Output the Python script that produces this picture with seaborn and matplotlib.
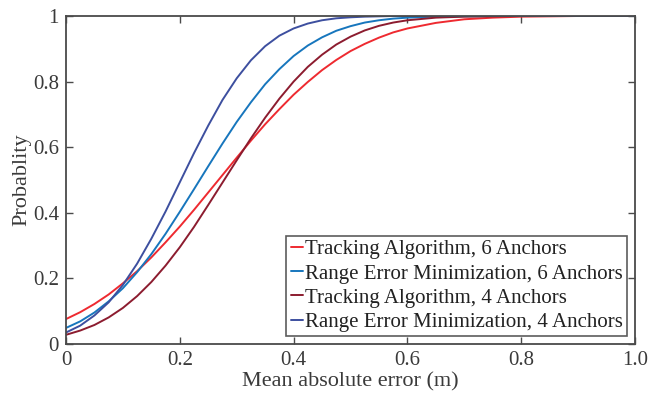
import numpy as np
import pandas as pd
import matplotlib
matplotlib.use("Agg")
import matplotlib.pyplot as plt
import seaborn as sns

# Error grid (m)
error_m = [0.0, 0.025, 0.05, 0.075, 0.1, 0.125, 0.15, 0.175, 0.2, 0.225,
           0.25, 0.275, 0.3, 0.325, 0.35, 0.375, 0.4, 0.425, 0.45, 0.475,
           0.5, 0.525, 0.55, 0.575, 0.6, 0.65, 0.7, 0.75, 0.8, 0.9, 1.0]

# Empirical CDF of mean absolute error for each method
tracking_6 = [0.076, 0.097, 0.122, 0.151, 0.185, 0.222, 0.264, 0.310, 0.358, 0.409,
              0.462, 0.515, 0.568, 0.620, 0.670, 0.716, 0.760, 0.799, 0.835, 0.866,
              0.893, 0.915, 0.934, 0.950, 0.962, 0.979, 0.990, 0.995, 0.998, 1.000, 1.000]
range_min_6 = [0.049, 0.069, 0.096, 0.130, 0.170, 0.219, 0.274, 0.336, 0.403, 0.472,
               0.542, 0.611, 0.677, 0.737, 0.792, 0.838, 0.878, 0.910, 0.935, 0.955,
               0.969, 0.980, 0.987, 0.992, 0.995, 0.998, 0.999, 1.000, 1.000, 1.000, 1.000]
tracking_4 = [0.028, 0.041, 0.058, 0.081, 0.110, 0.146, 0.189, 0.239, 0.295, 0.357,
              0.424, 0.492, 0.560, 0.627, 0.690, 0.748, 0.800, 0.845, 0.882, 0.913,
              0.937, 0.956, 0.970, 0.980, 0.987, 0.995, 0.998, 0.999, 1.000, 1.000, 1.000]
range_min_4 = [0.035, 0.056, 0.087, 0.127, 0.180, 0.245, 0.321, 0.404, 0.493, 0.582,
               0.666, 0.744, 0.810, 0.865, 0.908, 0.940, 0.962, 0.977, 0.987, 0.993,
               0.996, 0.998, 0.999, 1.000, 1.000, 1.000, 1.000, 1.000, 1.000, 1.000, 1.000]

series_names = ["Tracking Algorithm, 6 Anchors",
                "Range Error Minimization, 6 Anchors",
                "Tracking Algorithm, 4 Anchors",
                "Range Error Minimization, 4 Anchors"]
series_colors = ["#ee2a30", "#1776bd", "#8c1c2f", "#3d4f9f"]

x_ticks = [0, 0.2, 0.4, 0.6, 0.8, 1.0]
x_tick_labels = ["0", "0.2", "0.4", "0.6", "0.8", "1.0"]
y_ticks = [0, 0.2, 0.4, 0.6, 0.8, 1.0]
y_tick_labels = ["0", "0.2", "0.4", "0.6", "0.8", "1"]

df = pd.DataFrame({
    "error": error_m * 4,
    "prob": tracking_6 + range_min_6 + tracking_4 + range_min_4,
    "method": sum([[n] * len(error_m) for n in series_names], []),
})

sns.set_theme(style="ticks")
plt.rcParams["font.family"] = ["Liberation Serif", "DejaVu Serif"]

axis_gray = "#4a4a4a"
text_gray = "#3a3a3a"
fig = plt.figure(figsize=(6.5, 3.97), dpi=100)
ax = fig.add_axes([0.1015, 0.1335, 0.8755, 0.8262])

sns.lineplot(data=df, x="error", y="prob", hue="method", hue_order=series_names,
             palette=series_colors, linewidth=1.4, ax=ax, legend=False,
             estimator=None, sort=False)

ax.set_xlim(0, 1.0)
ax.set_ylim(0, 1.0)
ax.set_xticks(x_ticks)
ax.set_xticklabels(x_tick_labels)
ax.set_yticks(y_ticks)
ax.set_yticklabels(y_tick_labels)
ax.tick_params(direction="in", length=5, width=1.0, colors=axis_gray,
               labelsize=15, top=True, right=True, labelcolor=text_gray, pad=5)
for sp in ax.spines.values():
    sp.set_visible(True)
    sp.set_color(axis_gray)
    sp.set_linewidth(1.3)

ax.set_xlabel("Mean absolute error (m)", fontsize=16, color=text_gray, labelpad=2)
ax.set_ylabel("Probablity", fontsize=16, color=text_gray, labelpad=1)

handles = [plt.Line2D([], [], color=c, lw=1.4) for c in series_colors]
leg = ax.legend(handles, series_names, loc="lower right", fontsize=15,
                frameon=True, fancybox=False, handlelength=0.6, handletextpad=0.1,
                borderpad=0.2, labelspacing=0.22, borderaxespad=0.38,
                bbox_to_anchor=(1.0, 0.0))
leg.get_frame().set_edgecolor("#333333")
leg.get_frame().set_linewidth(1.2)
for t in leg.get_texts():
    t.set_color("#222222")

fig.savefig("out.png", dpi=100)
